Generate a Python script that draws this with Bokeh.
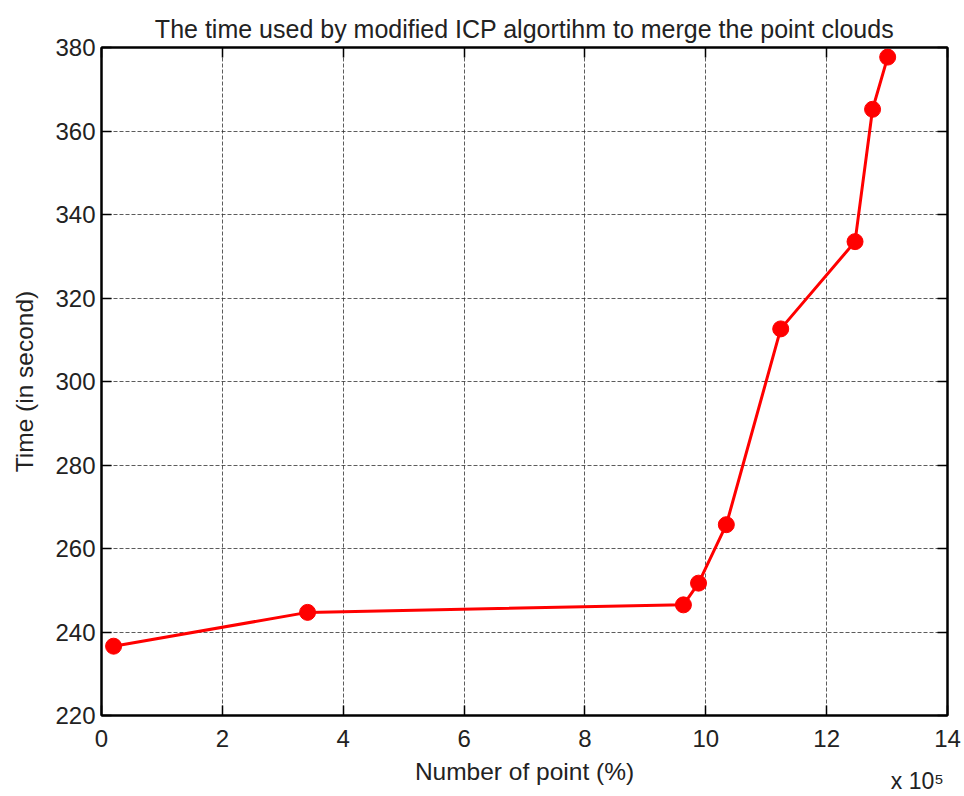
from bokeh.plotting import figure
from bokeh.models import (FixedTicker, LinearAxis, Range1d, ColumnDataSource,
                          CustomJSTickFormatter)
from bokeh.embed import file_html
from bokeh.resources import INLINE

# Data (x in units of 10^5 points)
num_points = [0.2, 3.41, 9.63, 9.88, 10.34, 11.24, 12.47, 12.76, 13.01]
time_sec = [236.6, 244.7, 246.5, 251.7, 265.7, 312.6, 333.5, 365.2, 377.7]
x_ticks = [0, 2, 4, 6, 8, 10, 12, 14]
y_ticks = [220, 240, 260, 280, 300, 320, 340, 360, 380]
x_scale_note = "x 10\u2075"

FONT = "Liberation Sans"
TXT = "#222222"

p = figure(width=964, height=796, output_backend="svg", toolbar_location=None,
           x_range=Range1d(0, 14), y_range=Range1d(220, 380),
           min_border_left=101, min_border_right=17, min_border_top=47, min_border_bottom=79,
           title="The time used by modified ICP algortihm to merge the point clouds")

p.title.text_font = FONT
p.title.text_font_size = "25px"
p.title.text_font_style = "normal"
p.title.text_color = TXT
p.title.align = "center"

p.outline_line_color = "black"
p.outline_line_width = 2
p.background_fill_color = "white"
p.border_fill_color = "white"

src = ColumnDataSource(dict(x=num_points, y=time_sec))
p.line("x", "y", source=src, line_color="#ff0000", line_width=3)
p.scatter("x", "y", source=src, size=16, fill_color="#ff0000", line_color="#ff0000")

for ax in (p.xaxis[0], p.yaxis[0]):
    ax.major_tick_in = 10
    ax.major_tick_out = 0
    ax.minor_tick_line_color = None
    ax.axis_line_color = "black"
    ax.axis_line_width = 2
    ax.major_tick_line_color = "black"
    ax.major_tick_line_width = 1.5
    ax.major_label_text_font = FONT
    ax.major_label_text_font_size = "24px"
    ax.major_label_text_color = TXT
    ax.axis_label_text_font = FONT
    ax.axis_label_text_font_size = "24.5px"
    ax.axis_label_text_font_style = "normal"
    ax.axis_label_text_color = TXT

p.xaxis[0].ticker = FixedTicker(ticks=x_ticks)
p.yaxis[0].ticker = FixedTicker(ticks=y_ticks)
p.xaxis[0].axis_label = "Number of point (%)"
p.yaxis[0].axis_label = "Time (in second)"
p.xaxis[0].major_label_standoff = 14
p.yaxis[0].major_label_standoff = 6
p.xaxis[0].axis_label_standoff = 8
p.yaxis[0].axis_label_standoff = 14

# Mirrored tick axes (top / right), no labels
blank = CustomJSTickFormatter(code="return ''")
for loc, tk in (("above", x_ticks), ("right", y_ticks)):
    a = LinearAxis(ticker=FixedTicker(ticks=tk), formatter=blank)
    a.major_tick_in = 10
    a.major_tick_out = 0
    a.minor_tick_line_color = None
    a.axis_line_color = "black"
    a.axis_line_width = 2
    a.major_tick_line_color = "black"
    a.major_tick_line_width = 1.5
    a.major_label_standoff = 0
    p.add_layout(a, loc)

# scale note "x 10^5" at the lower right, as a tick label of a bare axis
note_axis = LinearAxis(ticker=FixedTicker(ticks=[13.5]),
                       major_label_overrides={13.5: x_scale_note})
note_axis.axis_line_color = None
note_axis.major_tick_line_color = None
note_axis.minor_tick_line_color = None
note_axis.major_tick_in = 0
note_axis.major_tick_out = 0
note_axis.major_label_standoff = -20
note_axis.major_label_text_font = FONT
note_axis.major_label_text_font_size = "23px"
note_axis.major_label_text_color = TXT
p.add_layout(note_axis, "below")

p.xgrid.ticker = FixedTicker(ticks=x_ticks)
p.ygrid.ticker = FixedTicker(ticks=y_ticks)
for g in (p.xgrid[0], p.ygrid[0]):
    g.grid_line_color = "#333333"
    g.grid_line_dash = "4 2"
    g.grid_line_width = 1
    g.grid_line_alpha = 0.8

open("out.html", "w").write(file_html(p, INLINE))
